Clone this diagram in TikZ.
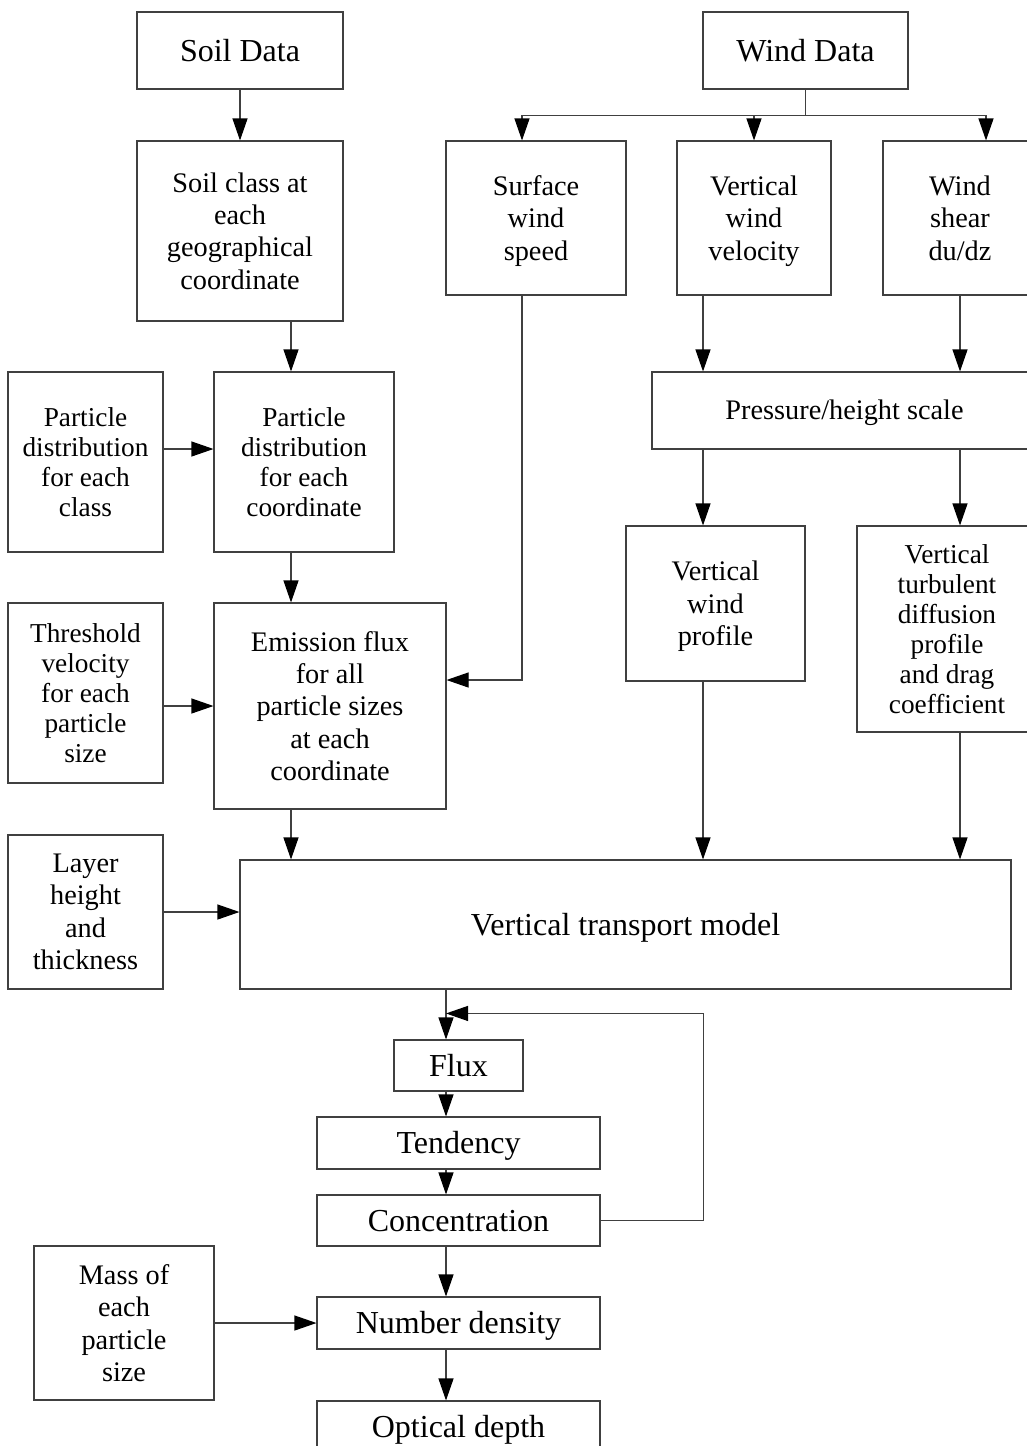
\documentclass[tikz,border=0pt]{standalone}
\usepackage{fontspec}
\setmainfont{Liberation Serif}
\usetikzlibrary{arrows.meta}
\definecolor{linec}{gray}{0.25}
\newcommand{\topfill}{\rule{0pt}{25.5pt}}
\begin{document}
\begin{tikzpicture}[x=1pt,y=-1pt,
  box/.style={draw=linec, line width=1.1pt, align=center, inner sep=0pt, text=black},
  fL/.style={font=\fontsize{32}{35}\selectfont},
  one/.style={text height=28pt, text depth=6.8pt},
  oneM/.style={text height=25pt, text depth=6.3pt},
  fM/.style={font=\fontsize{28.3}{32.4}\selectfont},
  fS/.style={font=\fontsize{27.3}{30}\selectfont},
  arr/.style={draw=linec, line width=1.1pt, -{Triangle[length=22pt,width=15pt,black]}},
  ln/.style={draw=linec, line width=1.1pt}]
\useasboundingbox (0,0) rectangle (1027,1446);
% boxes
\node[box,fL,one,minimum width=206,minimum height=77] (soil) at (240,50.5) {Soil Data};
\node[box,fL,one,minimum width=205,minimum height=77] (wind) at (805.5,50.5) {Wind Data};
\node[box,fM,minimum width=206,minimum height=180] (soilclass) at (240,231) {Soil class at\\each\\geographical\\coordinate};
\node[box,fM,minimum width=180,minimum height=154] (surf) at (536,218) {\topfill Surface\\wind\\speed};
\node[box,fM,minimum width=154,minimum height=154] (vvel) at (754,218) {\topfill Vertical\\wind\\velocity};
\node[box,fM,minimum width=154,minimum height=154] (shear) at (960,218) {Wind\\shear\\du/dz};
\node[box,fM,oneM,minimum width=385,minimum height=77] (press) at (844.5,410.5) {Pressure/height scale};
\node[box,fS,minimum width=155,minimum height=180] (pdclass) at (85.5,462) {Particle\\distribution\\for each\\class};
\node[box,fS,minimum width=180,minimum height=180] (pdcoord) at (304,462) {Particle\\distribution\\for each\\coordinate};
\node[box,fS,minimum width=155,minimum height=180] (thresh) at (85.5,693) {Threshold\\velocity\\for each\\particle\\size};
\node[box,fM,minimum width=232,minimum height=206] (emis) at (330,706) {Emission flux\\for all\\particle sizes\\at each\\coordinate};
\node[box,fM,minimum width=179,minimum height=155] (vprof) at (715.5,603.5) {\topfill Vertical\\wind\\profile};
\node[box,fS,minimum width=180,minimum height=206] (turb) at (947,629) {Vertical\\turbulent\\diffusion\\profile\\and drag\\coefficient};
\node[box,fL,one,minimum width=771,minimum height=129] (vtm) at (625.5,924.5) {Vertical transport model};
\node[box,fM,minimum width=155,minimum height=154] (layer) at (85.5,912) {Layer\\height\\and\\thickness};
\node[box,fL,one,minimum width=129,minimum height=51] (flux) at (458.5,1065.5) {Flux};
\node[box,fL,one,minimum width=283,minimum height=52] (tend) at (458.5,1143) {Tendency};
\node[box,fL,one,minimum width=283,minimum height=51] (conc) at (458.5,1220.5) {Concentration};
\node[box,fL,one,minimum width=283,minimum height=52] (numd) at (458.5,1323) {Number density};
\node[box,fL,one,minimum width=283,minimum height=52] (opt) at (458.5,1427) {Optical depth};
\node[box,fM,minimum width=180,minimum height=154] (mass) at (124,1323) {Mass of\\each\\particle\\size};
% connectors
\draw[arr] (soil) -- (soilclass);
\coordinate (j) at ([yshift=-26]wind.south);
\draw[ln] (wind.south) -- (j);
\draw[arr] (j) -| ([xshift=-14]surf.north);
\draw[arr] (j) -| (vvel.north);
\draw[arr] (j) -| ([xshift=26]shear.north);
\draw[arr] ([xshift=-13]pdcoord.north |- soilclass.south) -- ([xshift=-13]pdcoord.north);
\draw[arr] ([yshift=13]pdclass.east) -- ([yshift=13]pdcoord.west);
\draw[arr] ([xshift=-13]pdcoord.south) -- ([xshift=-13]pdcoord.south |- emis.north);
\draw[arr] ([yshift=-13]thresh.east) -- (emis.west);
\draw[arr] ([xshift=-14]surf.south) |- ([yshift=26]emis.east);
\draw[arr] ([xshift=-51]vvel.south) -- ([xshift=-51]vvel.south |- press.north);
\draw[arr] (shear.south) -- (shear.south |- press.north);
\draw[arr] ([xshift=-12.5]vprof.north |- press.south) -- ([xshift=-12.5]vprof.north);
\draw[arr] ([xshift=13]turb.north |- press.south) -- ([xshift=13]turb.north);
\draw[arr] ([xshift=-39]emis.south) -- ([xshift=-39]emis.south |- vtm.north);
\draw[arr] ([xshift=-12.5]vprof.south) -- ([xshift=-12.5]vprof.south |- vtm.north);
\draw[arr] ([xshift=13]turb.south) -- ([xshift=13]turb.south |- vtm.north);
\draw[arr] (layer.east) -- (layer.east -| vtm.west);
\draw[arr] ([xshift=-12.5]flux.north |- vtm.south) -- ([xshift=-12.5]flux.north);
\draw[arr] ([xshift=-12.5]flux.south) -- ([xshift=-12.5]tend.north);
\draw[arr] ([xshift=-12.5]tend.south) -- ([xshift=-12.5]conc.north);
\draw[arr] ([xshift=-12.5]conc.south) -- ([xshift=-12.5]numd.north);
\draw[arr] ([xshift=-12.5]numd.south) -- ([xshift=-12.5]opt.north);
\coordinate (fb) at ([xshift=-12.5,yshift=26]flux.north);
\draw[arr] (conc.east) -- ++(103,0) |- (fb);
\draw[arr] (mass) -- (numd);
\end{tikzpicture}
\end{document}
